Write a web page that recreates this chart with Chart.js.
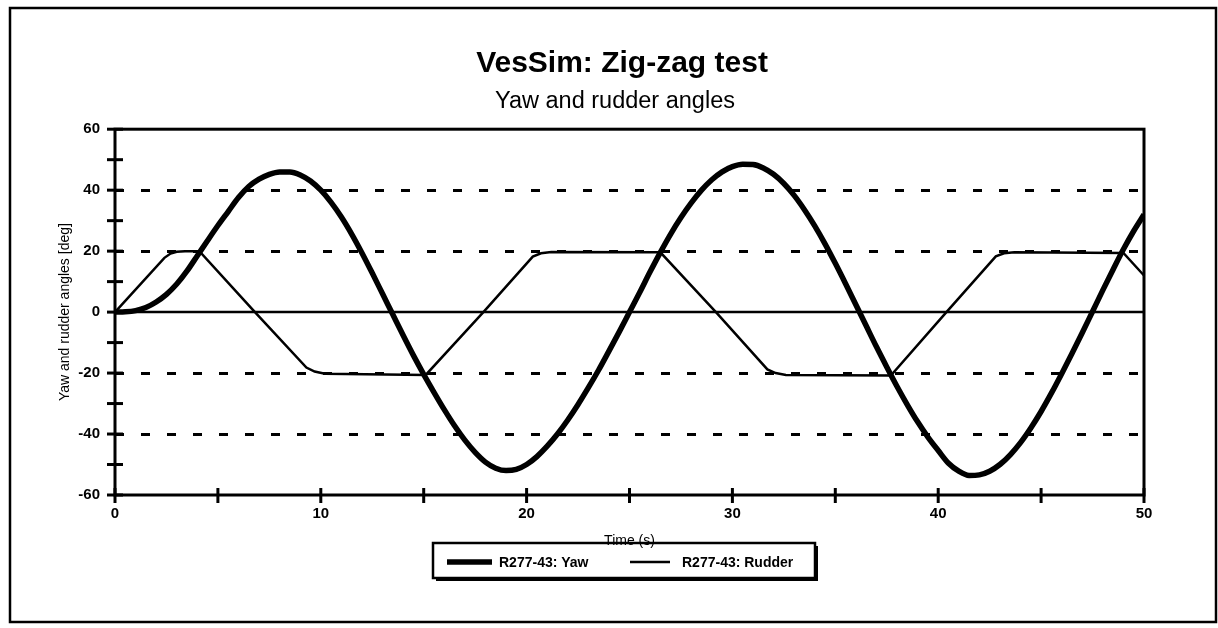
<!DOCTYPE html>
<html><head><meta charset="utf-8">
<script src="https://cdn.jsdelivr.net/npm/chart.js@4.4.1/dist/chart.umd.min.js"></script>
<style>html,body{margin:0;padding:0;background:#fff;overflow:hidden}#wrap{width:1218px;height:628px;position:relative}canvas{display:block}</style>
</head><body><div id="wrap"><canvas id="c" width="1218" height="628"></canvas></div>
<script>
const chartTitle = 'VesSim: Zig-zag test';
const chartSubtitle = 'Yaw and rudder angles';
const xAxisTitle = 'Time (s)';
const yAxisTitle = 'Yaw and rudder angles [deg]';
const seriesNames = ['R277-43: Yaw', 'R277-43: Rudder'];

const xTickLabels = [0, 10, 20, 30, 40, 50];
const yTickLabels = [-60, -40, -20, 0, 20, 40, 60];
const dashedGridValues = [-40, -20, 20, 40];

const yawTime = [0,0.5,1,1.5,2,2.5,3,3.5,4,4.5,5,5.5,6,6.5,7,7.5,8,8.5,9,9.5,10,10.5,11,11.5,12,12.5,13,13.5,14,14.5,15,15.5,16,16.5,17,17.5,18,18.5,19,19.5,20,20.5,21,21.5,22,22.5,23,23.5,24,24.5,25,25.5,26,26.5,27,27.5,28,28.5,29,29.5,30,30.5,31,31.5,32,32.5,33,33.5,34,34.5,35,35.5,36,36.5,37,37.5,38,38.5,39,39.5,40,40.5,41,41.5,42,42.5,43,43.5,44,44.5,45,45.5,46,46.5,47,47.5,48,48.5,49,49.5,50];
const yawDeg = [0,0.1,0.5,1.5,3.3,5.8,9.2,13.5,18.5,23.5,28.4,33.0,37.6,41.2,43.6,45.2,46.0,46.0,45.0,43.0,40.0,36.0,31.2,25.6,19.4,12.8,6.0,-0.8,-7.6,-14.2,-20.4,-26.3,-32.0,-37.3,-42.0,-46.0,-49.2,-51.2,-52.0,-51.6,-50.0,-47.4,-44.0,-40.0,-35.4,-30.3,-24.8,-19.0,-12.8,-6.5,0.0,6.5,13.2,19.6,25.6,31.0,35.8,40.0,43.4,46.0,47.7,48.5,48.4,47.3,45.2,42.2,38.3,33.6,28.3,22.4,16.0,9.3,2.4,-4.5,-11.4,-18.0,-24.4,-30.4,-36.0,-41.0,-45.4,-49.6,-52.2,-53.6,-53.4,-52.2,-50.0,-46.8,-42.8,-38.0,-32.6,-26.6,-20.2,-13.6,-6.8,0.2,7.2,14.0,20.6,26.6,32.0];

const rudderTime = [0,2.4,2.7,3.0,3.4,4.1,6.8,9.3,9.7,10.2,15.1,17.9,20.3,20.7,21.2,26.5,29.2,31.7,32.1,32.6,37.7,40.4,42.8,43.2,43.7,49.0,50];
const rudderDeg = [0,17.8,19.2,19.8,20,20,0,-18.2,-19.5,-20.2,-20.6,0,18.2,19.3,19.7,19.6,0,-18.8,-20,-20.6,-20.8,0,18.3,19.3,19.6,19.4,12];

const FONT = '"Liberation Sans", Arial, Helvetica, sans-serif';
Chart.defaults.font.family = FONT;
Chart.defaults.color = '#000';

const decor = {
  id: 'decor',
  afterLayout(chart) {
    const wanted = new Map([[chartTitle, 622], [chartSubtitle, 615]]);
    chart.boxes.forEach(b => {
      if (b.options && typeof b.options.text === 'string' && wanted.has(b.options.text)) {
        const d = wanted.get(b.options.text) - (b.left + b.right) / 2;
        b.left += d; b.right += d;
      }
    });
  },
  beforeDraw(chart) {
    const ctx = chart.ctx;
    ctx.save(); ctx.fillStyle = '#fff'; ctx.fillRect(0, 0, chart.width, chart.height); ctx.restore();
  },
  beforeDatasetsDraw(chart) {
    const {ctx, chartArea: a, scales: {x, y}} = chart;
    ctx.save();
    ctx.strokeStyle = '#000';
    ctx.lineWidth = 2.5;
    const y0 = y.getPixelForValue(0);
    ctx.beginPath(); ctx.moveTo(a.left, y0); ctx.lineTo(a.right, y0); ctx.stroke();
    ctx.lineWidth = 3;
    ctx.strokeRect(a.left, a.top, a.right - a.left, a.bottom - a.top);
    y.ticks.forEach(t => {
      const py = y.getPixelForValue(t.value);
      ctx.beginPath(); ctx.moveTo(a.left - 8, py); ctx.lineTo(a.left + 8, py); ctx.stroke();
    });
    x.ticks.forEach(t => {
      const px = x.getPixelForValue(t.value);
      ctx.beginPath(); ctx.moveTo(px, a.bottom - 7); ctx.lineTo(px, a.bottom + 8); ctx.stroke();
    });
    ctx.restore();
  },
  afterDraw(chart) {
    const ctx = chart.ctx;
    ctx.save();
    ctx.strokeStyle = '#000'; ctx.lineWidth = 2.5;
    ctx.strokeRect(10, 8, 1206, 614);
    const L = 433, T = 543, R = 815, B = 578;
    ctx.fillStyle = '#000';
    ctx.fillRect(L + 3, B, R - L, 3);
    ctx.fillRect(R, T + 3, 3, B - T);
    ctx.lineWidth = 2.5;
    ctx.strokeRect(L, T, R - L, B - T);
    const ds = chart.data.datasets;
    const items = [{x0: 447, x1: 492, tx: 499}, {x0: 630, x1: 670, tx: 682}];
    const cy = 562;
    ctx.font = 'bold 14px ' + FONT;
    ctx.textBaseline = 'middle'; ctx.textAlign = 'left';
    ds.forEach((d, i) => {
      const it = items[i];
      ctx.strokeStyle = d.borderColor; ctx.lineWidth = d.borderWidth; ctx.lineCap = 'butt';
      ctx.beginPath(); ctx.moveTo(it.x0, cy); ctx.lineTo(it.x1, cy); ctx.stroke();
      ctx.fillStyle = '#000';
      ctx.fillText(d.label, it.tx, cy + 1);
    });
    ctx.restore();
  }
};

new Chart(document.getElementById('c'), {
  type: 'line',
  data: {
    datasets: [
      {
        label: seriesNames[0],
        data: yawTime.map((t, i) => ({x: t, y: yawDeg[i]})),
        borderColor: '#000', borderWidth: 5.5, pointRadius: 0,
        cubicInterpolationMode: 'monotone', fill: false
      },
      {
        label: seriesNames[1],
        data: rudderTime.map((t, i) => ({x: t, y: rudderDeg[i]})),
        borderColor: '#000', borderWidth: 2.5, pointRadius: 0,
        tension: 0, fill: false
      }
    ]
  },
  options: {
    responsive: false, animation: false, devicePixelRatio: 1,
    layout: {padding: {left: 14, right: 74, top: 10, bottom: 78}},
    plugins: {
      legend: {display: false},
      tooltip: {enabled: false},
      title: {display: true, text: chartTitle, color: '#000', font: {size: 30, weight: 'bold'}, padding: {top: 36, bottom: 2}},
      subtitle: {display: true, text: chartSubtitle, color: '#000', font: {size: 23.5, weight: 'normal'}, padding: {top: 3, bottom: 14}}
    },
    scales: {
      x: {
        type: 'linear', min: 0, max: 50,
        afterFit(s) { s.height = 55; },
        ticks: {stepSize: 5, autoSkip: false, maxRotation: 0, padding: 10, color: '#000',
          font: {size: 15, weight: 'bold'},
          callback: v => xTickLabels.includes(v) ? String(v) : ''},
        grid: {drawOnChartArea: false, drawTicks: false, color: 'rgba(0,0,0,0)'},
        border: {display: false},
        title: {display: true, text: xAxisTitle, color: '#000', font: {size: 14}, padding: {top: 0, bottom: 0}}
      },
      y: {
        min: -60, max: 60,
        afterFit(s) { s.width = 101; },
        ticks: {stepSize: 10, autoSkip: false, padding: 15, color: '#000',
          font: {size: 15, weight: 'bold'},
          callback: v => yTickLabels.includes(v) ? String(v) : ''},
        grid: {drawTicks: false, lineWidth: 3,
          color: c => (c.tick && dashedGridValues.includes(c.tick.value)) ? '#000' : 'rgba(0,0,0,0)'},
        border: {display: false, dash: [9, 17]},
        title: {display: true, text: yAxisTitle, color: '#000', font: {size: 14}, padding: {top: 43, bottom: 0}}
      }
    }
  },
  plugins: [decor]
});
</script>
</body></html>
